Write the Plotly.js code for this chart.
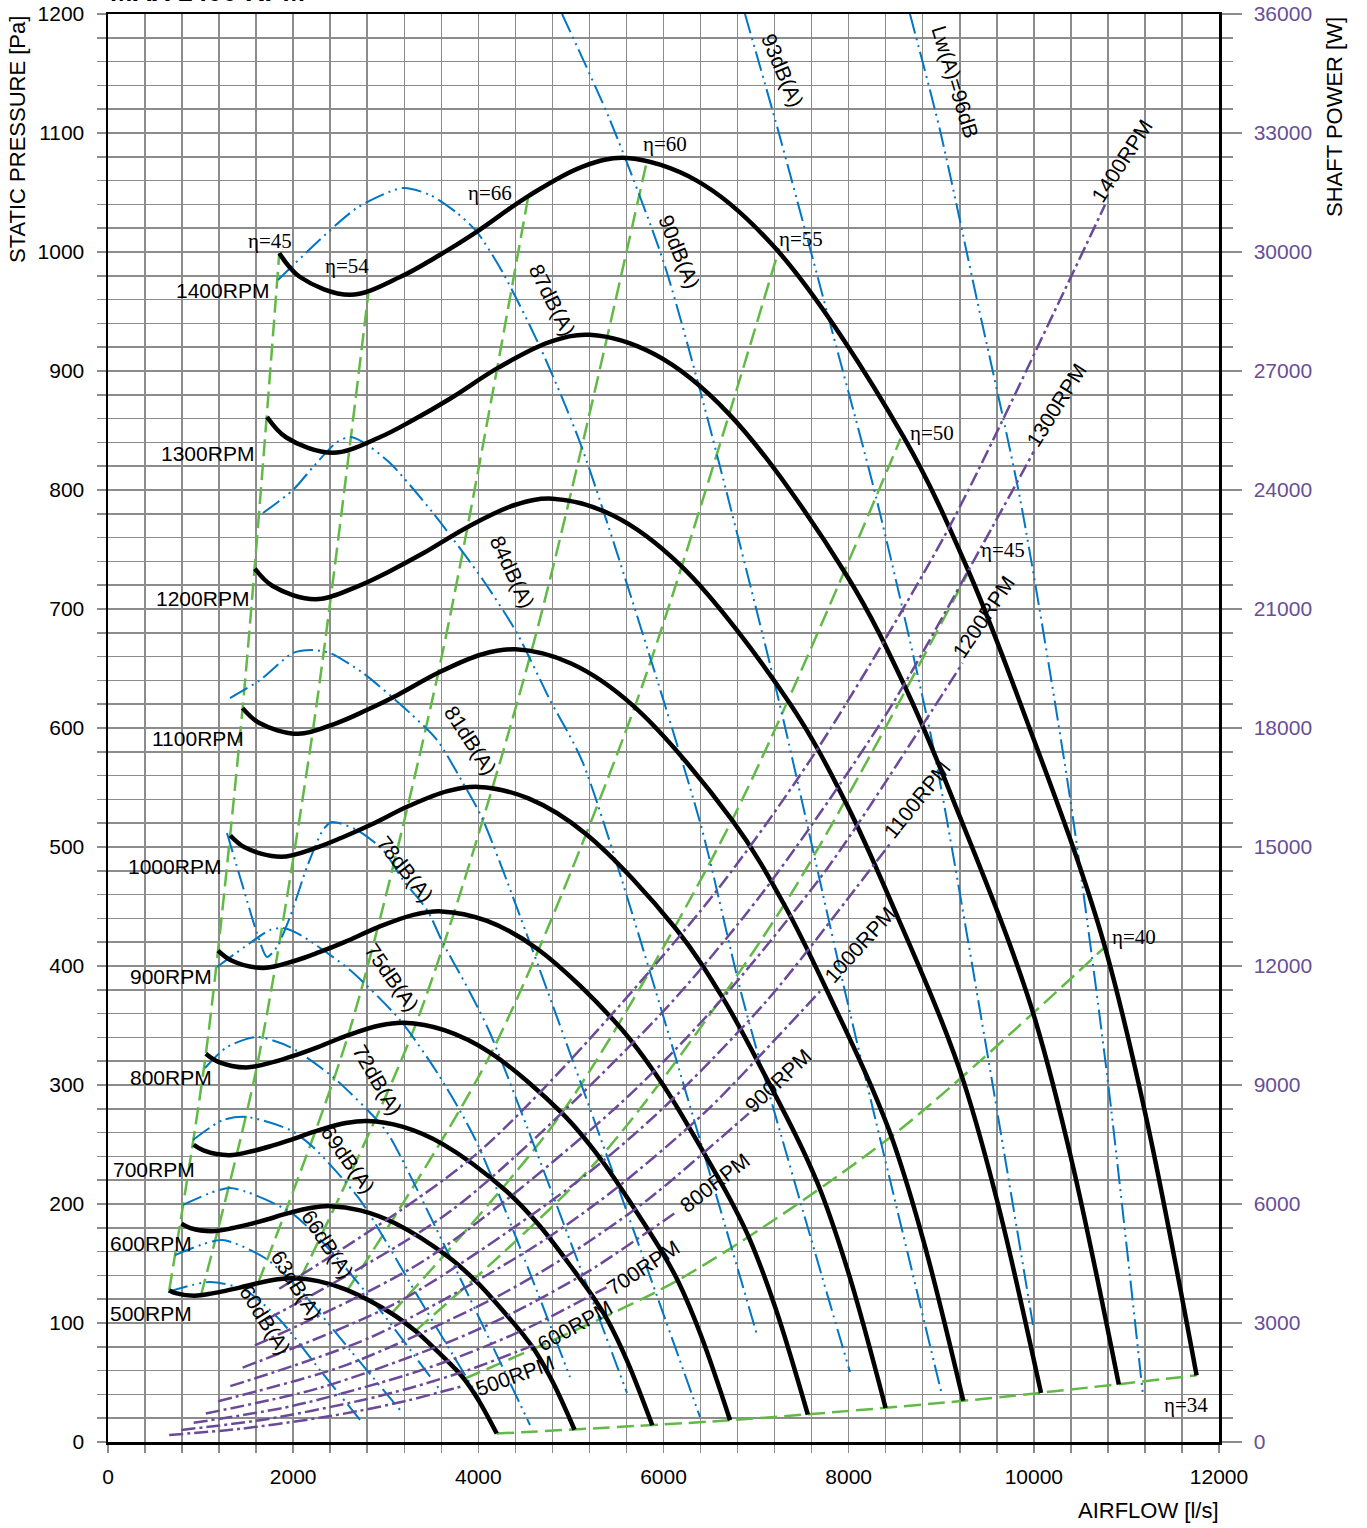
<!DOCTYPE html>
<html><head><meta charset="utf-8">
<script src="https://cdn.plot.ly/plotly-3.0.1.min.js"></script>
<style>html,body{margin:0;padding:0;background:#fff}#chart{width:1367px;height:1528px}</style>
</head><body><div id="chart"></div>
<script>
// ---------- fan curves: airflow [l/s] / static pressure [Pa] ----------
const RPMS = [500,600,700,800,900,1000,1100,1200,1300,1400];
const FAN_Q_500  = [661,741,934,1126,1268,1422,1621,1834,2001,2271,2579,3068,3325,3556,3749,3852,4006,4199];
const FAN_P_500  = [127.4,124.9,123.0,124.9,127.0,129.7,133.5,136.7,137.6,135.2,127.8,107.8,93.0,76.4,61.6,52.4,34.6,7.1];
const FAN_Q_600  = [793,889,1120,1352,1521,1707,1946,2200,2401,2725,3095,3681,3990,4268,4499,4623,4808,5039];
const FAN_P_600  = [183.5,179.8,177.1,179.8,182.9,186.8,192.3,196.9,198.2,194.7,184.0,155.2,133.9,110.0,88.7,75.5,49.8,10.3];
const FAN_Q_700  = [925,1037,1307,1577,1775,1991,2270,2567,2801,3179,3611,4295,4655,4979,5249,5393,5609,5879];
const FAN_P_700  = [249.8,244.8,241.0,244.8,249.0,254.3,261.8,268.0,269.8,265.0,250.5,211.3,182.3,149.8,120.8,102.8,67.8,14.0];
const FAN_Q_800  = [1057,1185,1494,1802,2029,2275,2594,2934,3201,3633,4127,4909,5320,5690,5999,6163,6410,6719];
const FAN_P_800  = [326.2,319.7,314.8,319.7,325.2,332.1,341.9,350.0,352.3,346.1,327.2,275.9,238.0,195.6,157.7,134.2,88.5,18.3];
const FAN_Q_900  = [1189,1333,1680,2028,2282,2560,2919,3300,3601,4087,4643,5522,5985,6402,6749,6934,7212,7559];
const FAN_P_900  = [412.9,404.6,398.4,404.6,411.6,420.3,432.7,443.0,445.9,438.1,414.1,349.2,301.3,247.5,199.6,169.9,112.0,23.1];
const FAN_Q_1000 = [1321,1481,1867,2253,2536,2844,3243,3667,4001,4541,5159,6136,6650,7113,7499,7704,8013,8399];
const FAN_P_1000 = [509.7,499.5,491.8,499.5,508.2,518.9,534.2,546.9,550.5,540.8,511.2,431.1,371.9,305.6,246.4,209.7,138.3,28.6];
const FAN_Q_1100 = [1454,1630,2054,2478,2789,3129,3567,4034,4402,4996,5674,6749,7315,7824,8248,8475,8814,9238];
const FAN_P_1100 = [616.7,604.4,595.1,604.4,614.9,627.8,646.4,661.8,666.1,654.4,618.6,521.7,450.0,369.8,298.2,253.7,167.3,34.6];
const FAN_Q_1200 = [1586,1778,2241,2703,3043,3413,3891,4401,4802,5450,6190,7363,7980,8535,8998,9245,9615,10078];
const FAN_P_1200 = [734.0,719.3,708.2,719.3,731.8,747.2,769.2,787.6,792.7,778.8,736.2,620.8,535.6,440.1,354.9,302.0,199.1,41.1];
const FAN_Q_1300 = [1718,1926,2427,2929,3296,3698,4216,4767,5202,5904,6706,7976,8645,9247,9748,10016,10417,10918];
const FAN_P_1300 = [861.4,844.1,831.2,844.1,858.8,876.9,902.8,924.3,930.4,914.0,864.0,728.6,628.6,516.5,416.5,354.4,233.7,48.3];
const FAN_Q_1400 = [1850,2074,2614,3154,3550,3982,4540,5134,5602,6358,7222,8590,9310,9958,10498,10786,11218,11758];
const FAN_P_1400 = [999,979,964,979,996,1017,1047,1072,1079,1060,1002,845,729,599,483,411,271,56];

// ---------- shaft power: airflow [l/s] / power [W] ----------
const PWR_Q_500  = [661,1429,2284,2721,3235,3672,3846];
const PWR_W_500  = [176,333,609,788,1045,1311,1420];
const PWR_Q_600  = [793,1714,2740,3265,3882,4407,4615];
const PWR_W_600  = [304,575,1053,1363,1806,2266,2455];
const PWR_Q_700  = [925,2000,3197,3809,4529,5141,5384];
const PWR_W_700  = [483,913,1671,2164,2868,3599,3898];
const PWR_Q_800  = [1057,2286,3654,4353,5176,5875,6153];
const PWR_W_800  = [721,1362,2495,3230,4281,5372,5819];
const PWR_Q_900  = [1189,2571,4110,4897,5823,6610,6922];
const PWR_W_900  = [1027,1939,3552,4599,6095,7649,8285];
const PWR_Q_1000 = [1321,2857,4567,5441,6470,7344,7691];
const PWR_W_1000 = [1409,2660,4873,6308,8360,10492,11365];
const PWR_Q_1100 = [1454,3143,5024,5986,7117,8079,8461];
const PWR_W_1100 = [1875,3541,6486,8396,11128,13965,15127];
const PWR_Q_1200 = [1586,3429,5481,6530,7764,8813,9230];
const PWR_W_1200 = [2434,4597,8420,10900,14447,18130,19638];
const PWR_Q_1300 = [1718,3714,5937,7074,8411,9548,9999];
const PWR_W_1300 = [3095,5845,10706,13859,18368,23051,24969];
const PWR_Q_1400 = [1850,4000,6394,7618,9058,10282,10768];
const PWR_W_1400 = [3865,7300,13371,17309,22941,28790,31185];

// ---------- efficiency lines (η) ----------
const EFF_LABELS = ['η=45','η=54','η=66','η=60','η=55','η=50','η=45','η=40','η=34'];
const EFF_Q_45L = [661,1057,1454,1850];   const EFF_P_45L = [127.4,326.2,616.7,999];
const EFF_Q_54  = [1004,1607,2209,2812];  const EFF_P_54  = [123.1,315.1,595.7,965];
const EFF_Q_66  = [1621,2594,3567,4540];  const EFF_P_66  = [133.5,341.9,646.4,1047];
const EFF_Q_60  = [2080,3329,4577,5825];  const EFF_P_60  = [137.5,352.0,665.5,1078];
const EFF_Q_55  = [2589,4143,5696,7250];  const EFF_P_55  = [127.9,327.5,619.2,1003];
const EFF_Q_50  = [3057,4891,6726,8560];  const EFF_P_50  = [107.5,275.3,520.4,843];
const EFF_Q_45R = [3321,5314,7307,9300];  const EFF_P_45R = [93.4,239.0,451.9,732];
const EFF_Q_40  = [3846,6153,8461,10768]; const EFF_P_40  = [53.1,135.8,256.8,416];
const EFF_Q_34  = [4199,6719,9238,11758]; const EFF_P_34  = [7.1,18.3,34.6,56];

// ---------- sound power lines ----------
const SND_LABELS = ['60dB(A)','63dB(A)','66dB(A)','69dB(A)','72dB(A)','75dB(A)','78dB(A)','81dB(A)','84dB(A)','87dB(A)','90dB(A)','93dB(A)','Lw(A)=96dB'];
const SND_Q_60 = [648,1102,1480,1858,2290,2722];
const SND_P_60 = [126.1,134.5,127.7,102.5,60.5,18.5];
const SND_Q_63 = [724,1231,1696,2074,2614,3154];
const SND_P_63 = [157.1,169.7,154.6,127.7,77.3,26.9];
const SND_Q_66 = [810,1318,1966,2398,2938,3586];
const SND_P_66 = [199.2,213.4,193.3,161.3,110.9,43.7];
const SND_Q_69 = [918,1242,1501,1966,2214,2722,3370,4018];
const SND_P_69 = [253.8,270.6,273.1,262.2,247.9,203.4,119.3,35.3];
const SND_Q_72 = [1048,1285,1609,1966,2430,2905,3046,4558];
const SND_P_72 = [314.3,331.9,340.3,331.9,306.7,270.6,256.3,14.3];
const SND_Q_75 = [1177,1534,1750,1890,2041,2214,2614,3154,3586,3986,4990];
const SND_P_75 = [399.2,419.3,430.3,431.9,427.7,419.3,396.6,354.6,306.7,251.3,54.6];
const SND_Q_78 = [1285,1458,1609,1717,1825,1966,2149,2322,2419,2689,2970,3186,3446,3618,3878,4126,5606];
const SND_P_78 = [511.8,466.4,427.7,407.6,416.0,441.2,483.2,514.3,521.0,514.3,497.5,472.3,447.1,419.3,382.4,343.7,41.2];
const SND_Q_81 = [1318,1642,1998,2214,2398,2754,3262,3554,3834,4050,6394];
const SND_P_81 = [625.2,640.3,663.0,665.5,663.0,646.2,612.6,589.9,553.8,522.7,21.0];
const SND_Q_84 = [1674,1998,2214,2473,2614,2754,3046,3510,4050,4417,4774,5130,7010];
const SND_P_84 = [780.7,800,819.3,840.3,844.5,840.3,822.7,780.7,724.4,679.8,623.5,570.6,89.9];
const SND_Q_87 = [1836,2689,3186,3478,3770,3986,4266,4666,5120,6394,6859,8014];
const SND_P_87 = [976.5,1037,1053.8,1047.9,1032.8,1016.8,982.4,920.2,835.3,521.0,371.4,58.8];
const SND_Q_90 = [4904,5422,5994,6394,7226,7982,9008];
const SND_P_90 = [1200,1110.9,993.3,884.0,629.4,371.4,39.5];
const SND_Q_93 = [6880,7237,7798,8306,8911,9473,9991];
const SND_P_93 = [1200,1102.5,940.3,790.8,584.9,337.8,98.3];
const SND_Q_96 = [8662,8986,9386,9854,10391,10790,11179];
const SND_P_96 = [1200,1102.5,959.7,791.6,541.2,309.2,39.5];

// ---------- axis ticks ----------
const X_TICKS = [0,2000,4000,6000,8000,10000,12000];
const Y_TICKS = [0,100,200,300,400,500,600,700,800,900,1000,1100,1200];
const Y2_TICKS = [0,3000,6000,9000,12000,15000,18000,21000,24000,27000,30000,33000,36000];

// ---------- build ----------
const FAN = {500:[FAN_Q_500,FAN_P_500],600:[FAN_Q_600,FAN_P_600],700:[FAN_Q_700,FAN_P_700],800:[FAN_Q_800,FAN_P_800],900:[FAN_Q_900,FAN_P_900],1000:[FAN_Q_1000,FAN_P_1000],1100:[FAN_Q_1100,FAN_P_1100],1200:[FAN_Q_1200,FAN_P_1200],1300:[FAN_Q_1300,FAN_P_1300],1400:[FAN_Q_1400,FAN_P_1400]};
const PWR = {500:[PWR_Q_500,PWR_W_500],600:[PWR_Q_600,PWR_W_600],700:[PWR_Q_700,PWR_W_700],800:[PWR_Q_800,PWR_W_800],900:[PWR_Q_900,PWR_W_900],1000:[PWR_Q_1000,PWR_W_1000],1100:[PWR_Q_1100,PWR_W_1100],1200:[PWR_Q_1200,PWR_W_1200],1300:[PWR_Q_1300,PWR_W_1300],1400:[PWR_Q_1400,PWR_W_1400]};
const EFF = [[EFF_Q_45L,EFF_P_45L],[EFF_Q_54,EFF_P_54],[EFF_Q_66,EFF_P_66],[EFF_Q_60,EFF_P_60],[EFF_Q_55,EFF_P_55],[EFF_Q_50,EFF_P_50],[EFF_Q_45R,EFF_P_45R],[EFF_Q_40,EFF_P_40],[EFF_Q_34,EFF_P_34]];
const SND = [[SND_Q_60,SND_P_60],[SND_Q_63,SND_P_63],[SND_Q_66,SND_P_66],[SND_Q_69,SND_P_69],[SND_Q_72,SND_P_72],[SND_Q_75,SND_P_75],[SND_Q_78,SND_P_78],[SND_Q_81,SND_P_81],[SND_Q_84,SND_P_84],[SND_Q_87,SND_P_87],[SND_Q_90,SND_P_90],[SND_Q_93,SND_P_93],[SND_Q_96,SND_P_96]];

const GREEN='rgb(98,186,70)', BLUE='rgb(0,118,196)', PURPLE='rgb(106,74,152)', PURPLE_TXT='rgb(104,78,150)';
const FONT='Liberation Sans, Arial, sans-serif';
const traces=[];
RPMS.forEach(r=>traces.push({x:PWR[r][0],y:PWR[r][1],yaxis:'y2',mode:'lines',line:{color:PURPLE,width:2.5,dash:'14px,4px,3px,4px',shape:'spline',smoothing:0.8},hoverinfo:'skip'}));
EFF.forEach(e=>traces.push({x:e[0],y:e[1],mode:'lines',line:{color:GREEN,width:2.5,dash:'17px,7px',shape:'spline',smoothing:0.8},hoverinfo:'skip'}));
SND.forEach(s=>traces.push({x:s[0],y:s[1],mode:'lines',line:{color:BLUE,width:2,dash:'20px,5px,2px,5px,2px,5px',shape:'spline',smoothing:0.7},hoverinfo:'skip'}));
RPMS.forEach(r=>traces.push({x:FAN[r][0],y:FAN[r][1],mode:'lines',line:{color:'#000',width:4.5,shape:'spline',smoothing:1},hoverinfo:'skip'}));

const ann=[];
const txt=(x,y,t,o)=>ann.push(Object.assign({x:x,y:y,text:t,showarrow:false,xanchor:'center',yanchor:'middle',font:{family:FONT,size:21,color:'#000'}},o||{}));
// fan RPM labels
const fanLab=[[1242,968],[1080,831],[1026,709],[972,591],[713,484],[680,391],[680,306],[497,229],[464,167],[464,108]];
[1400,1300,1200,1100,1000,900,800,700,600,500].forEach((r,i)=>txt(fanLab[i][0],fanLab[i][1],r+'RPM'));
// power RPM labels
const pwrLab=[[4396,56,-20],[5044,98,-29],[5779,147,-33],[6556,218,-38],[7237,304,-43],[8122,418,-48],[8738,540,-51],[9451,693,-56],[10240,871,-58],[10952,1077,-57]];
RPMS.forEach((r,i)=>txt(pwrLab[i][0],pwrLab[i][1],r+'RPM',{textangle:pwrLab[i][2]}));
// eta labels
const effLab=[[1750,1009],[2581,988],[4126,1050],[6016,1091],[7485,1011],[8899,848],[9666,750],[11081,424],[11642,31]];
EFF_LABELS.forEach((t,i)=>txt(effLab[i][0],effLab[i][1],t,{font:{family:'Liberation Serif, Times New Roman, serif',size:21,color:'#000'}}));
// dB labels
const sndLab=[[1696,103,58],[2031,132,58],[2376,166,57],[2592,237,55],[2916,304,60],[3067,390,55],[3208,482,52],[3910,590,57],[4374,731,65],[4796,960,63],[6178,1000,68],[7280,1153,67],[9148,1143,73]];
SND_LABELS.forEach((t,i)=>txt(sndLab[i][0],sndLab[i][1],t,{textangle:sndLab[i][2]}));
// axis titles
const paperTxt=(x,y,t,o)=>ann.push(Object.assign({xref:'paper',yref:'paper',x:x,y:y,text:t,showarrow:false,xanchor:'center',yanchor:'middle',font:{family:FONT,size:22,color:'#000'}},o||{}));
paperTxt(-0.081,0.9118,'STATIC PRESSURE [Pa]',{textangle:-90});
paperTxt(1.1044,0.9279,'SHAFT POWER [W]',{textangle:-90});
paperTxt(0.9361,-0.0483,'AIRFLOW [l/s]');
paperTxt(0,1.0035,'<b>MAX 1400 RPM</b>',{xanchor:'left',yanchor:'bottom',font:{family:FONT,size:27,color:'#000'}});

const GRID='#8c8c8c';
const layout={
  width:1367,height:1528,margin:{l:108,r:148,t:14,b:86},
  paper_bgcolor:'#fff',plot_bgcolor:'#fff',showlegend:false,
  xaxis:{range:[0,12000],tickvals:X_TICKS,tickformat:'d',showgrid:true,gridcolor:GRID,gridwidth:1.5,
    showline:true,linecolor:'#000',linewidth:2.5,mirror:true,ticks:'outside',ticklen:8,tickcolor:GRID,tickwidth:1.5,
    tickfont:{family:FONT,size:21,color:'#000'},ticklabelstandoff:6,zeroline:false,
    minor:{dtick:400,showgrid:true,gridcolor:GRID,gridwidth:1.5,ticks:'outside',ticklen:8,tickcolor:GRID,tickwidth:1.5}},
  yaxis:{range:[0,1200],tickvals:Y_TICKS,tickformat:'d',showgrid:true,gridcolor:GRID,gridwidth:1.5,
    showline:true,linecolor:'#000',linewidth:2.5,mirror:true,ticks:'outside',ticklen:9,tickcolor:GRID,tickwidth:1.5,
    tickfont:{family:FONT,size:21,color:'#000'},ticklabelstandoff:8,zeroline:false,
    minor:{dtick:20,showgrid:true,gridcolor:GRID,gridwidth:1.5,ticks:'outside',ticklen:9,tickcolor:GRID,tickwidth:1.5}},
  yaxis2:{range:[0,36000],tickvals:Y2_TICKS,tickformat:'d',overlaying:'y',side:'right',showgrid:false,zeroline:false,
    showline:true,linecolor:'#000',linewidth:2.5,ticks:'outside',ticklen:20,tickcolor:GRID,tickwidth:1.5,
    tickfont:{family:FONT,size:21,color:PURPLE_TXT},ticklabelstandoff:8,
    minor:{dtick:600,ticks:'outside',ticklen:11,tickcolor:GRID,tickwidth:1.5}},
  annotations:ann
};
Plotly.newPlot('chart',traces,layout,{staticPlot:true});
</script></body></html>
